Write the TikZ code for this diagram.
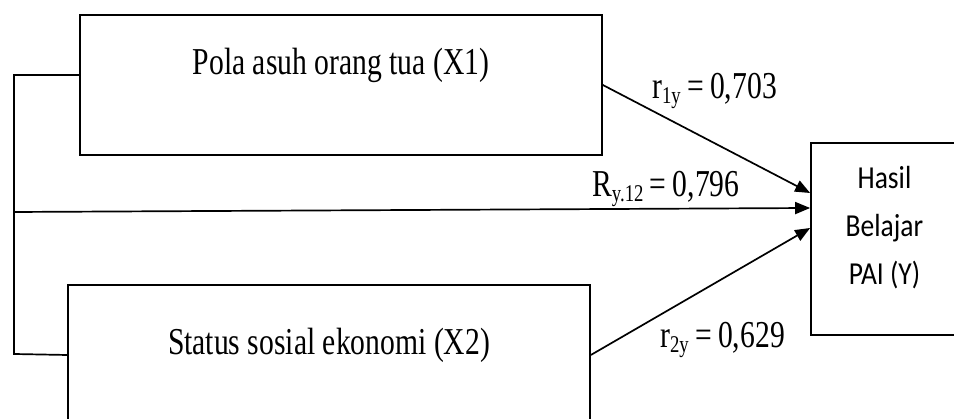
\documentclass[tikz,border=0pt]{standalone}
\usepackage{fontspec}
\setmainfont{Liberation Serif}
\newfontfamily\narrowserif[FakeStretch=0.78]{Liberation Serif}
\newfontfamily\narrowsans[FakeStretch=0.86]{Carlito}
\usetikzlibrary{positioning, arrows.meta}

\begin{document}
\begin{tikzpicture}[x=1pt, y=1pt,
    varbox/.style={rectangle, draw, line width=1.7pt, inner sep=0pt, minimum width=522pt, font=\narrowserif\fontsize{38}{42}\selectfont},
    arr/.style={-{Triangle[length=15pt, width=12pt]}, line width=1.7pt},
    link/.style={line width=1.7pt},
    coef/.style={font=\narrowserif\fontsize{38}{42}\selectfont, anchor=base west, inner sep=0pt},
  ]
    \useasboundingbox (0,0) rectangle (954,419);

    % variables
    \node[varbox, text height=60pt, text depth=80pt] (x1) at (341,334) {Pola asuh orang tua (X1)};
    \node[varbox, text height=70pt, text depth=70pt] (x2) at (329,64) {Status sosial ekonomi (X2)};
    \node[rectangle, draw, line width=1.7pt, inner sep=0pt, minimum width=151pt, minimum height=192pt,
      label={[font=\narrowsans\fontsize{32}{48}\selectfont, align=center, yshift=11pt, xshift=-2pt]center:Hasil\\Belajar\\PAI (Y)}] (y) at (886.5,180) {};

    % bracket on the left
    \coordinate (lt) at (14,344);
    \coordinate (lb) at (14,65);
    \coordinate (lm) at (14,207);
    \draw[link] ([yshift=10pt]x1.west) -- (lt) -- (lb) -- (x2.west);

    \draw[arr] (x1.east) -- ([yshift=46pt]y.west);
    \draw[arr] (lm) -- ([yshift=31pt]y.west);
    \draw[arr] (x2.east) -- ([yshift=11pt]y.west);

    % coefficients
    \node[coef] (r1) at (652,320) {r\raisebox{-5pt}{\fontsize{24}{24}\selectfont 1y}\,=\,0,703};
    \node[coef] (ry) at (592,222) {R\raisebox{-5pt}{\fontsize{24}{24}\selectfont y.12}\,=\,0,796};
    \node[coef] (r2) at (660,71) {r\raisebox{-5pt}{\fontsize{24}{24}\selectfont 2y}\,=\,0,629};
  \end{tikzpicture}
\end{document}
